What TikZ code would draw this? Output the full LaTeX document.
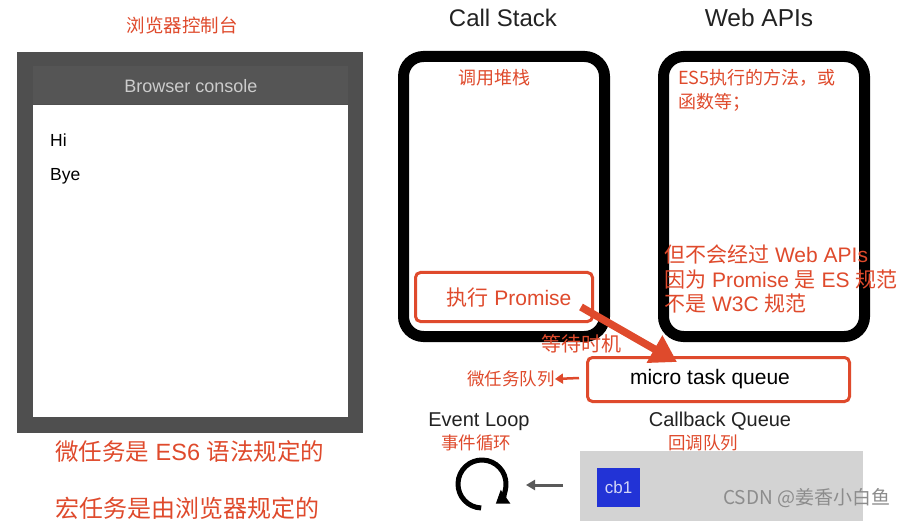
\documentclass[tikz,border=0pt]{standalone}
\usepackage{fontspec}
\setmainfont{Liberation Sans}
\newfontfamily\cjk{Noto Sans CJK SC}
\usetikzlibrary{arrows.meta}
\definecolor{redc}{HTML}{DF4A2C}
\definecolor{consoledark}{HTML}{4F4F4F}
\definecolor{consolebar}{HTML}{555555}
\definecolor{titlegray}{HTML}{222222}
\definecolor{cbgray}{HTML}{D3D3D3}
\definecolor{cbblue}{HTML}{2233D6}
\newcommand{\fs}[1]{\fontsize{#1}{#1}\selectfont}
\newcommand{\zh}[1]{{\cjk #1}}
\begin{document}
\begin{tikzpicture}[x=1pt,y=-1pt,
  redtxt/.style={text=redc,inner sep=0pt,font=\fs{#1}},
  redtxt/.default=18,
  title/.style={text=titlegray,inner sep=0pt,font=\fs{#1}},
  title/.default=20,
  stackbox/.style={draw=black,line width=11pt,rounded corners=20pt},
  redbox/.style={draw=redc,line width=3pt,rounded corners=5pt},
]
\useasboundingbox[fill=white] (0,0) rectangle (910,521);

% browser console
\node[redtxt=18.5] (bct) at (182,25) {\zh{浏览器控制台}};
\fill[consoledark] (17,52) rectangle (363,433);
\fill[consolebar] (33,66) rectangle (348,104);
\fill[white] (33,105) rectangle (348,417);
\node[text=black!20,inner sep=0pt,font=\fs{18}] (bc) at (191,86) {Browser console};
\node[anchor=west,inner sep=0pt,font=\fs{17.5}] (hi) at (50,140) {Hi};
\node[anchor=west,inner sep=0pt,font=\fs{17.5}] (bye) at (50,176) {Bye};
\node[redtxt=23.5,anchor=west] (n1) at (55,452) {\zh{微任务是} ES6 \zh{语法规定的}};
\node[redtxt=24,anchor=west] (n2) at (55,508) {\zh{宏任务是由浏览器规定的}};

% call stack & web apis
\node[title=24] (cst) at (503,18) {Call Stack};
\node[title=24.5] (wat) at (759,18) {Web APIs};
\draw[stackbox] (403.5,56.5) rectangle (604.5,336.5);
\draw[stackbox] (663.5,56.5) rectangle (864.5,336.5);
\node[redtxt=18] (cs) at (494,78) {\zh{调用堆栈}};
\node[redtxt=18,anchor=west] (es5a) at (678,78) {\zh{ES5执行的方法，或}};
\node[redtxt=18,anchor=west] (es5b) at (678,102) {\zh{函数等；}};

\node[redbox,minimum width=177pt,minimum height=49pt,inner sep=0pt] (exec) at (504,297) {};
\node[redtxt=21] (exect) at (509,298) {\zh{执行} Promise};

\node[redtxt=21,anchor=west] (l1) at (664,255) {\zh{但不会经过} Web APIs};
\node[redtxt=21,anchor=west] (l2) at (664,280) {\zh{因为} Promise \zh{是} ES \zh{规范}};
\node[redtxt=21,anchor=west] (l3) at (664,304) {\zh{不是} W3C \zh{规范}};

% micro task queue
\node[redbox,minimum width=262pt,minimum height=44pt,inner sep=0pt] (mtq) at (718.5,379.5) {};
\node[text=black,inner sep=0pt,font=\fs{21}] (mtqt) at (710,379) {micro task queue};
\coordinate (arrs) at (581,307);
\coordinate (arre) at (677,362);
\draw[redc,line width=7.5pt,-{Triangle[length=26pt,width=30pt]}] (arrs) -- (arre);
\node[redtxt=20] (wait) at (581,344) {\zh{等待时机}};
\node[redtxt=17.5] (wq) at (511,379) {\zh{微任务队列}};
\coordinate (wqs) at (579,378);
\draw[redc,line width=2.5pt,-{Triangle[length=8pt,width=10pt]}] (wqs) -- (wq.east);

% event loop
\node[title=20] (el) at (479,422) {Event Loop};
\node[redtxt=17.5] (elc) at (476,443) {\zh{事件循环}};
\coordinate (loopc) at (482,484);
\draw[line width=5pt,-{Triangle[length=12pt,width=16pt]}] ([shift={(-268:24)}]loopc) arc[start angle=-268,end angle=55,radius=24];

% callback queue
\node[title=20] (cq) at (720,421) {Callback Queue};
\node[redtxt=17.5] (cqc) at (703,443) {\zh{回调队列}};
\fill[cbgray] (580,451) rectangle (863,521);
\node[fill=cbblue,minimum width=43pt,minimum height=39pt,inner sep=0pt,text=white!80!cbblue,font=\fs{17}] (cb1) at (618.5,487.5) {cb1};
\coordinate (grs) at (563,485);
\draw[black!65,line width=3pt,-{Triangle[length=9pt,width=10pt]}] (grs) -- (526,485);

% watermark
\node[anchor=west,inner sep=0pt,text=black!45,font=\cjk\fs{19}] (wm) at (723,498) {CSDN @姜香小白鱼};
\end{tikzpicture}
\end{document}
